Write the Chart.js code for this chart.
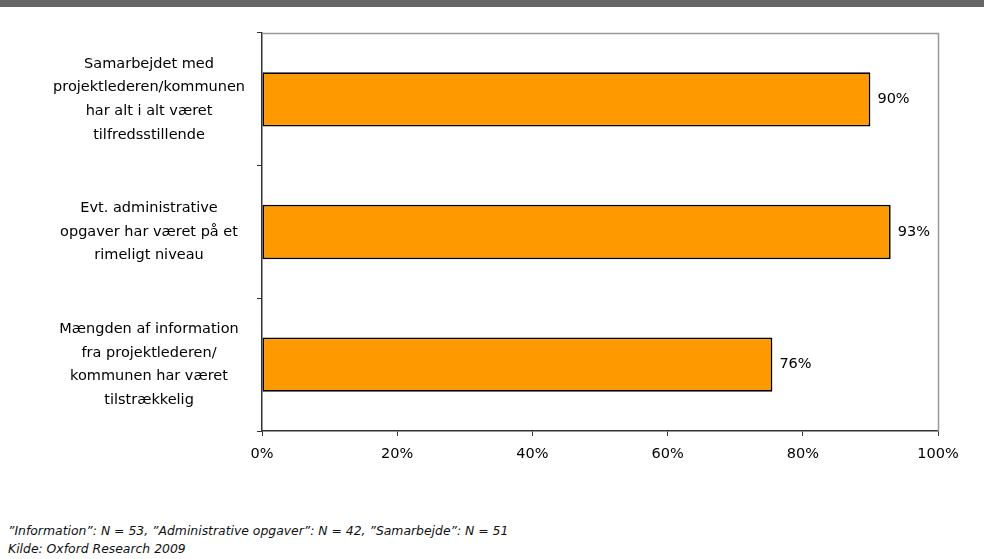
<!DOCTYPE html>
<html>
<head>
<meta charset="utf-8">
<script src="https://cdn.jsdelivr.net/npm/chart.js@4/dist/chart.umd.min.js"></script>
<style>
  html, body { margin: 0; padding: 0; background: #fff; width: 984px; height: 559px; overflow: hidden; }
  #band { position: absolute; left: 0; top: 0; width: 984px; height: 7px; background: #666666; }
  #wrap { position: absolute; left: 0; top: 0; width: 984px; height: 475px; }
  .note { position: absolute; left: 8px; font-family: "DejaVu Sans", sans-serif; font-style: italic; font-size: 12.4px; color: #111; white-space: nowrap; }
</style>
</head>
<body>
<div id="wrap"><canvas id="c"></canvas></div>
<div id="band"></div>
<div class="note" style="top:523px">”Information”: N = 53, ”Administrative opgaver”: N = 42, ”Samarbejde”: N = 51</div>
<div class="note" style="top:541px">Kilde: Oxford Research 2009</div>
<script>
const categories = [
  ["Samarbejdet med", "projektlederen/kommunen", "har alt i alt været", "tilfredsstillende"],
  ["Evt. administrative", "opgaver har været på et", "rimeligt niveau"],
  ["Mængden af information", "fra projektlederen/", "kommunen har været", "tilstrækkelig"]
];
const values = [90, 93, 75.5];
const xTicks = [0, 20, 40, 60, 80, 100];

const FONT = "DejaVu Sans";

const framePlugin = {
  id: 'frame',
  afterDatasetsDraw(chart) {
    const {ctx, chartArea: a} = chart;
    ctx.save();
    ctx.strokeStyle = '#999999';
    ctx.lineWidth = 1.5;
    ctx.beginPath();
    ctx.moveTo(a.left, a.top + 0.5);
    ctx.lineTo(a.right + 0.5, a.top + 0.5);
    ctx.lineTo(a.right + 0.5, a.bottom);
    ctx.stroke();
    const meta = chart.getDatasetMeta(0);
    ctx.fillStyle = '#000';
    ctx.font = '14.5px "' + FONT + '"';
    ctx.textBaseline = 'middle';
    ctx.textAlign = 'left';
    meta.data.forEach((bar, i) => {
      ctx.fillText(Math.round(values[i]) + '%', bar.x + 7, bar.y);
    });
    ctx.restore();
  }
};

new Chart(document.getElementById('c'), {
  type: 'bar',
  data: {
    labels: categories,
    datasets: [{
      data: values,
      backgroundColor: '#FF9900',
      borderColor: '#000000',
      borderWidth: 1.8,
      borderSkipped: false,
      categoryPercentage: 0.41,
      barPercentage: 1.0
    }]
  },
  options: {
    indexAxis: 'y',
    responsive: true,
    maintainAspectRatio: false,
    animation: false,
    layout: { padding: { top: 33, right: 46, left: 0, bottom: 0 } },
    plugins: { legend: { display: false }, tooltip: { enabled: false } },
    scales: {
      x: {
        min: 0, max: 100,
        afterBuildTicks(scale) { scale.ticks = xTicks.map(v => ({value: v})); },
        afterFit(scale) { scale.height = 44; scale.paddingLeft = 0; scale.paddingRight = 0; },
        grid: { drawOnChartArea: false, drawTicks: true, tickLength: 5, color: '#333', lineWidth: 1 },
        border: { color: '#333', width: 1.5 },
        ticks: { color: '#000', padding: 10, font: { family: FONT, size: 14.5 }, callback: v => v + '%' }
      },
      y: {
        afterFit(scale) { scale.width = 262; scale.paddingTop = 0; scale.paddingBottom = 0; },
        grid: { drawOnChartArea: false, drawTicks: true, tickLength: 5, color: '#333', offset: true },
        border: { color: '#333', width: 1.5 },
        ticks: { color: '#000', padding: 12, font: { family: FONT, size: 14.5, lineHeight: 1.63 }, crossAlign: 'center' }
      }
    }
  },
  plugins: [framePlugin]
});
</script>
</body>
</html>
